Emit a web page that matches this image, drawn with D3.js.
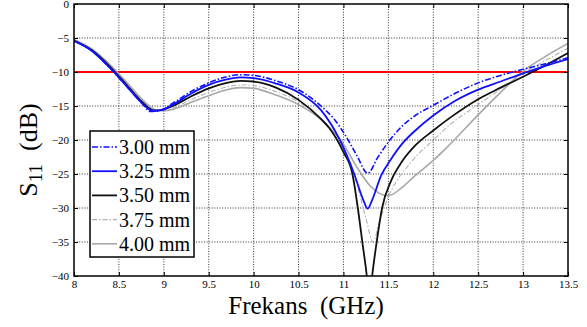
<!DOCTYPE html>
<html>
<head>
<meta charset="utf-8">
<script src="https://d3js.org/d3.v7.min.js"></script>
<style>
  body { margin: 0; background: #fff; }
  svg text { font-family: "Liberation Serif", "Times New Roman", serif; fill: #000; }
</style>
</head>
<body>
<div id="chart"></div>
<script>
// values, [GHz, dB]
var s300 = [[8.0,-5.4],[8.2,-6.9],[8.4,-9.4],[8.6,-12.3],[8.75,-14.5],[8.85,-15.8],[8.95,-15.7],[9.1,-14.6],[9.3,-12.9],[9.5,-11.6],[9.7,-10.7],[9.85,-10.4],[10.0,-10.5],[10.25,-11.3],[10.5,-12.6],[10.75,-15.0],[10.9,-17.0],[11.03,-19.5],[11.15,-22.3],[11.27,-24.9],[11.38,-22.6],[11.5,-20.3],[11.65,-18.0],[11.8,-16.4],[12.0,-14.9],[12.25,-13.1],[12.5,-11.6],[12.75,-10.5],[13.0,-9.6],[13.25,-8.8],[13.5,-7.9]];
var s325 = [[8.0,-5.4],[8.2,-6.9],[8.4,-9.4],[8.6,-12.3],[8.75,-14.5],[8.87,-15.7],[8.97,-15.6],[9.1,-14.8],[9.3,-13.2],[9.5,-11.9],[9.7,-11.1],[9.85,-10.8],[10.0,-10.9],[10.25,-11.7],[10.5,-13.0],[10.75,-15.6],[10.96,-20.0],[11.12,-25.0],[11.22,-28.8],[11.27,-30.1],[11.32,-28.8],[11.42,-25.2],[11.52,-23.0],[11.65,-20.6],[11.8,-18.6],[12.0,-16.4],[12.25,-14.2],[12.5,-12.6],[12.75,-11.4],[13.0,-10.2],[13.25,-9.1],[13.5,-8.1]];
var s350 = [[8.0,-5.4],[8.2,-6.8],[8.4,-9.2],[8.6,-12.1],[8.75,-14.3],[8.9,-15.7],[9.0,-15.5],[9.1,-15.0],[9.3,-13.6],[9.5,-12.4],[9.7,-11.6],[9.85,-11.3],[10.0,-11.4],[10.25,-12.3],[10.5,-14.1],[10.75,-16.9],[10.84,-18.2],[11.0,-21.8],[11.1,-25.0],[11.16,-30.0],[11.21,-35.0],[11.26,-40.0],[11.29,-44.0],[11.32,-40.0],[11.37,-35.0],[11.43,-30.0],[11.53,-26.0],[11.65,-23.2],[11.8,-20.8],[12.0,-18.6],[12.2,-16.6],[12.5,-14.0],[12.75,-12.3],[13.0,-10.7],[13.25,-9.0],[13.5,-7.2]];
var s375 = [[8.0,-5.3],[8.2,-6.7],[8.4,-9.0],[8.6,-11.9],[8.75,-14.1],[8.9,-15.6],[9.0,-15.7],[9.1,-15.3],[9.3,-14.1],[9.5,-13.0],[9.7,-12.2],[9.85,-11.9],[10.0,-12.0],[10.25,-12.9],[10.5,-14.4],[10.75,-17.0],[11.0,-21.5],[11.15,-26.5],[11.25,-31.5],[11.33,-35.0],[11.4,-32.0],[11.48,-29.0],[11.77,-23.0],[12.0,-20.0],[12.2,-17.6],[12.5,-14.8],[12.75,-12.5],[13.0,-10.2],[13.25,-8.3],[13.5,-6.5]];
var s400 = [[8.0,-5.2],[8.2,-6.6],[8.4,-8.9],[8.6,-11.7],[8.75,-13.9],[8.9,-15.5],[9.0,-15.7],[9.1,-15.5],[9.3,-14.5],[9.5,-13.5],[9.7,-12.6],[9.85,-12.3],[10.0,-12.4],[10.25,-13.4],[10.5,-14.8],[10.75,-17.0],[11.0,-20.6],[11.15,-24.0],[11.3,-26.8],[11.5,-28.2],[11.65,-27.0],[11.8,-25.2],[12.0,-23.0],[12.18,-20.7],[12.5,-16.3],[12.75,-13.0],[13.0,-9.9],[13.25,-7.7],[13.5,-5.8]];

var seriesNames = ["3.00 mm", "3.25 mm", "3.50 mm", "3.75 mm", "4.00 mm"];
var seriesData = [s300, s325, s350, s375, s400];
var xTicks = [8, 8.5, 9, 9.5, 10, 10.5, 11, 11.5, 12, 12.5, 13, 13.5];
var yTicks = [0, -5, -10, -15, -20, -25, -30, -35, -40];
var threshold = -10;

var styles = [
    { color: "#1010ff", width: 1.6, dash: "6,2,1.5,2" },
    { color: "#1010ff", width: 1.8, dash: null },
    { color: "#111", width: 1.8, dash: null },
    { color: "#b0b0b0", width: 1.1, dash: "5,2,1.5,2" },
    { color: "#a8a8a8", width: 1.6, dash: null }
];

var W = 587, H = 327;
var pLeft = 74, pRight = 568, pTop = 4, pBottom = 276;

var svg = d3.select("#chart").append("svg").attr("width", W).attr("height", H);
svg.append("rect").attr("width", W).attr("height", H).attr("fill", "#fff");

var x = d3.scaleLinear().domain([8, 13.5]).range([pLeft, pRight]);
var y = d3.scaleLinear().domain([-40, 0]).range([pBottom, pTop]);

svg.append("clipPath").attr("id", "plot")
    .append("rect").attr("x", pLeft).attr("y", pTop)
    .attr("width", pRight - pLeft).attr("height", pBottom - pTop);

// dotted grid
var grid = svg.append("g").attr("stroke", "#000").attr("stroke-width", 0.8).attr("stroke-dasharray", "1,1.6");
grid.selectAll(".gx").data(xTicks.slice(1, -1)).enter().append("line")
    .attr("x1", d => x(d)).attr("x2", d => x(d)).attr("y1", pTop).attr("y2", pBottom);
grid.selectAll(".gy").data(yTicks.slice(1, -1)).enter().append("line")
    .attr("y1", d => y(d)).attr("y2", d => y(d)).attr("x1", pLeft).attr("x2", pRight);

// threshold
svg.append("line").attr("x1", pLeft).attr("x2", pRight)
    .attr("y1", y(threshold)).attr("y2", y(threshold))
    .attr("stroke", "#ff0000").attr("stroke-width", 2);

// curves
var line = d3.line().x(d => x(d[0])).y(d => y(d[1])).curve(d3.curveMonotoneX);
var curves = svg.append("g").attr("clip-path", "url(#plot)").attr("fill", "none");
// draw light ones first
[4, 3, 2, 1, 0].forEach(function (i) {
    curves.append("path")
        .attr("d", line(seriesData[i]))
        .attr("stroke", styles[i].color)
        .attr("stroke-width", styles[i].width)
        .attr("stroke-dasharray", styles[i].dash)
        .attr("stroke-linejoin", "round");
});

// axes, ticks inward on all four sides
var ax = svg.append("g");
ax.append("g").attr("transform", `translate(0,${pBottom})`)
    .call(d3.axisBottom(x).tickValues(xTicks).tickSize(-4).tickPadding(4).tickFormat(d3.format("")));
ax.append("g").attr("transform", `translate(0,${pTop})`)
    .call(d3.axisTop(x).tickValues(xTicks).tickSize(-4).tickFormat(""));
ax.append("g").attr("transform", `translate(${pLeft},0)`)
    .call(d3.axisLeft(y).tickValues(yTicks).tickSize(-4).tickPadding(5).tickFormat(d3.format("")));
ax.append("g").attr("transform", `translate(${pRight},0)`)
    .call(d3.axisRight(y).tickValues(yTicks).tickSize(-4).tickFormat(""));
ax.selectAll(".domain").remove();
ax.selectAll(".tick line").attr("stroke", "#000").attr("stroke-width", 1);
ax.selectAll(".tick text").attr("font-family", "Liberation Serif").attr("font-size", 11);

svg.append("rect").attr("x", pLeft).attr("y", pTop)
    .attr("width", pRight - pLeft).attr("height", pBottom - pTop)
    .attr("fill", "none").attr("stroke", "#000").attr("stroke-width", 1.5);

// legend
var lg = svg.append("g");
lg.append("rect").attr("x", 90).attr("y", 131).attr("width", 104).attr("height", 126)
    .attr("fill", "#fff").attr("stroke", "#000").attr("stroke-width", 1.5);
seriesNames.forEach(function (name, i) {
    var ry = 147 + i * 24.2;
    lg.append("line").attr("x1", 92).attr("x2", 117).attr("y1", ry).attr("y2", ry)
        .attr("stroke", styles[i].color).attr("stroke-width", styles[i].width)
        .attr("stroke-dasharray", styles[i].dash);
    lg.append("text").attr("x", 119).attr("y", ry + 7)
        .attr("font-size", 20).text(name);
});

// titles
svg.append("text").attr("x", 306).attr("y", 314).attr("text-anchor", "middle")
    .attr("font-size", 25).style("white-space", "pre").text("Frekans  (GHz)");

var yt = svg.append("text").attr("transform", "translate(37,150) rotate(-90)")
    .attr("text-anchor", "middle").attr("font-size", 26).style("white-space", "pre");
yt.append("tspan").text("S");
yt.append("tspan").attr("font-size", 19).attr("dy", 5).text("11");
yt.append("tspan").attr("dy", -5).text("  (dB)");
</script>
</body>
</html>
